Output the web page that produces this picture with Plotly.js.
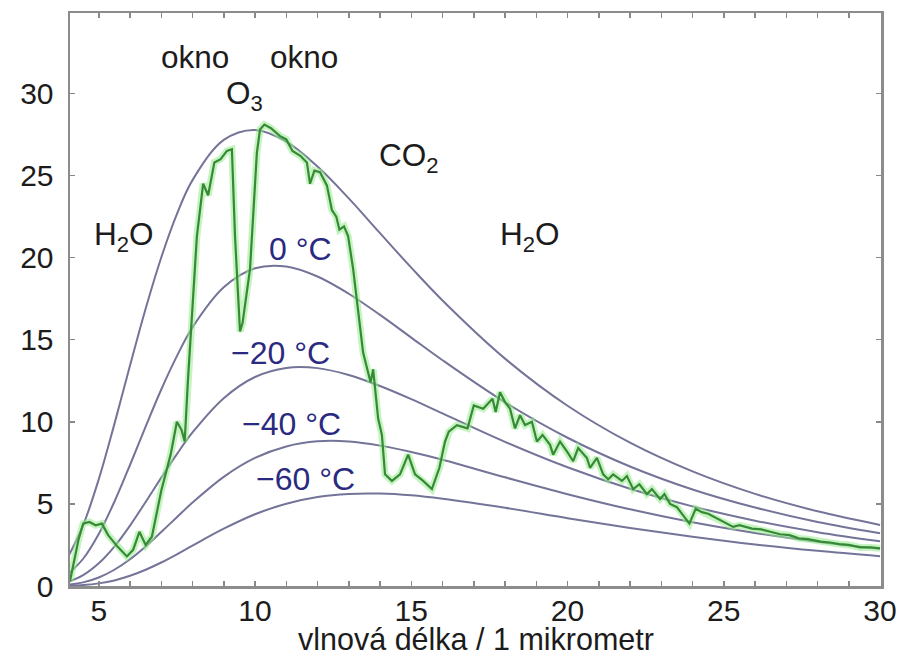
<!DOCTYPE html>
<html>
<head>
<meta charset="utf-8">
<script src="https://cdn.plot.ly/plotly-3.0.1.min.js"></script>
<style>html,body{margin:0;padding:0;background:#fff;}#chart{width:903px;height:660px;}</style>
</head>
<body>
<div id="chart"></div>
<script>
// Wavelength grid for the black-body reference curves (micrometres)
const planckX = [4, 4.5, 5, 5.5, 6, 6.5, 7, 7.5, 8, 9, 10, 11, 12, 13, 14, 15, 16, 18, 20, 22, 24, 26, 28, 30];
// Black-body curves
const curvePlus20 = [1.70, 3.70, 6.50, 9.86, 13.43, 16.89, 20.01, 22.65, 24.72, 27.17, 27.78, 27.07, 25.55, 23.61, 21.49, 19.39, 17.39, 13.85, 10.98, 8.73, 6.98, 5.61, 4.55, 3.72];
const curve0 = [0.69, 1.66, 3.17, 5.13, 7.37, 9.71, 11.97, 14.00, 15.75, 18.19, 19.35, 19.46, 18.85, 17.80, 16.51, 15.13, 13.75, 11.19, 9.03, 7.28, 5.88, 4.78, 3.90, 3.21];
const curveMinus20 = [0.24, 0.66, 1.38, 2.40, 3.68, 5.12, 6.60, 8.03, 9.35, 11.44, 12.73, 13.28, 13.27, 12.85, 12.18, 11.38, 10.51, 8.78, 7.23, 5.92, 4.85, 3.98, 3.28, 2.72];
const curveMinus40 = [0.07, 0.22, 0.52, 0.99, 1.63, 2.41, 3.29, 4.19, 5.08, 6.65, 7.80, 8.50, 8.81, 8.80, 8.55, 8.16, 7.69, 6.62, 5.59, 4.67, 3.88, 3.23, 2.69, 2.25];
const curveMinus60 = [0.02, 0.06, 0.16, 0.34, 0.62, 0.99, 1.43, 1.93, 2.46, 3.49, 4.37, 5.01, 5.42, 5.61, 5.63, 5.52, 5.31, 4.76, 4.13, 3.53, 3.00, 2.53, 2.14, 1.81];

// Measured spectrum (green)
const specX = [4.08, 4.2, 4.35, 4.5, 4.7, 4.9, 5.1, 5.3, 5.6, 5.9,
  6.1, 6.3, 6.5, 6.7, 7.0, 7.3, 7.5, 7.65, 7.75, 7.85,
  7.98, 8.14, 8.34, 8.5, 8.7, 8.9, 9.1, 9.26, 9.36, 9.45,
  9.52, 9.6, 9.84, 10.06, 10.16, 10.3, 10.5, 10.8, 11.0, 11.2,
  11.45, 11.66, 11.76, 11.9, 12.08, 12.3, 12.46, 12.6, 12.7, 12.85,
  12.98, 13.14, 13.26, 13.46, 13.7, 13.78, 13.94, 14.06, 14.16, 14.38,
  14.64, 14.9, 15.12, 15.38, 15.66, 15.9, 16.08, 16.2, 16.46, 16.8,
  17.0, 17.3, 17.6, 17.7, 17.84, 18.0, 18.16, 18.32, 18.48, 18.64,
  18.86, 19.02, 19.2, 19.44, 19.54, 19.76, 19.98, 20.18, 20.34, 20.62,
  20.72, 20.94, 21.14, 21.3, 21.46, 21.74, 21.9, 22.1, 22.3, 22.54,
  22.7, 22.96, 23.1, 23.28, 23.5, 23.8, 23.9, 24.1, 24.3, 24.5,
  24.8, 25.1, 25.3, 25.5, 25.7, 25.9, 26.2, 26.5, 26.8, 27.1,
  27.4, 27.7, 28.1, 28.4, 28.7, 29.0, 29.36, 29.7, 30.0];
const specY = [0.3, 1.5, 2.8, 3.8, 3.9, 3.7, 3.8, 3.1, 2.4, 1.8,
  2.2, 3.3, 2.5, 3.0, 5.8, 8.0, 10.0, 9.5, 8.8, 12.4,
  16.5, 21.3, 24.5, 23.8, 25.8, 26.0, 26.5, 26.6, 21.3, 17.5,
  15.5, 16.0, 19.3, 26.4, 27.8, 28.1, 27.9, 27.4, 27.2, 26.5,
  26.2, 25.8, 24.5, 25.3, 25.2, 24.4, 22.9, 22.5, 21.7, 21.9,
  21.3, 19.3, 17.3, 14.2, 12.4, 13.2, 10.2, 9.2, 6.8, 6.4,
  6.8, 8.0, 6.8, 6.4, 5.9, 7.2, 8.8, 9.4, 9.8, 9.6,
  11.0, 10.8, 11.4, 10.6, 11.8, 11.2, 10.8, 9.6, 10.4, 9.8,
  10.0, 8.8, 9.2, 8.6, 8.0, 8.8, 8.2, 7.6, 8.4, 7.8,
  7.2, 7.8, 6.8, 6.5, 6.8, 6.4, 6.7, 5.9, 6.2, 5.6,
  5.9, 5.3, 5.6, 5.0, 4.8, 4.1, 3.8, 4.7, 4.5, 4.4,
  4.1, 3.75, 3.6, 3.7, 3.6, 3.5, 3.45, 3.3, 3.15, 3.1,
  2.9, 2.85, 2.7, 2.65, 2.55, 2.5, 2.35, 2.35, 2.3];

// Ticks
const xTickVals = [5,6,7,8,9,10,11,12,13,14,15,16,17,18,19,20,21,22,23,24,25,26,27,28,29,30];
const xTickText = ['5','','','','','10','','','','','15','','','','','20','','','','','25','','','','','30'];
const yTickVals = [0, 5, 10, 15, 20, 25, 30];
const yTickText = ['0', '5', '10', '15', '20', '25', '30'];

// Texts
const xTitle = 'vlnová délka / 1 mikrometr';
const gasLabels = ['okno', 'okno', 'O<sub>3</sub>', 'CO<sub>2</sub>', 'H<sub>2</sub>O', 'H<sub>2</sub>O'];
const tempLabels = ['0 °C', '−20 °C', '−40 °C', '−60 °C'];

const FONT = 'Liberation Sans, Arial, Helvetica, sans-serif';
const curveColor = '#747499';

function bb(y) {
  return {x: planckX, y: y, type: 'scatter', mode: 'lines',
          line: {color: curveColor, width: 2, shape: 'spline', smoothing: 1.0},
          hoverinfo: 'skip', showlegend: false};
}

const traces = [
  bb(curvePlus20), bb(curve0), bb(curveMinus20), bb(curveMinus40), bb(curveMinus60),
  {x: specX, y: specY, type: 'scatter', mode: 'lines',
   line: {color: 'rgba(150,235,140,0.55)', width: 7}, showlegend: false, hoverinfo: 'skip'},
  {x: specX, y: specY, type: 'scatter', mode: 'lines',
   line: {color: '#368a36', width: 2.2}, showlegend: false, hoverinfo: 'skip'}
];

const gasPos = [[8.08, 32.2], [11.57, 32.2], [9.65, 29.9], [14.93, 26.1], [5.81, 21.3], [18.8, 21.3]];
const tempPos = [[11.44, 20.5], [10.8, 14.2], [11.18, 9.85], [11.63, 6.5]];

const annotations = [];
gasLabels.forEach((t, i) => annotations.push({
  x: gasPos[i][0], y: gasPos[i][1], xref: 'x', yref: 'y', text: t, showarrow: false,
  xanchor: 'center', yanchor: 'middle', font: {family: FONT, size: 31.5, color: '#1c1c1c'}
}));
tempLabels.forEach((t, i) => annotations.push({
  x: tempPos[i][0], y: tempPos[i][1], xref: 'x', yref: 'y', text: t, showarrow: false,
  xanchor: 'center', yanchor: 'middle', font: {family: FONT, size: 32, color: '#2a2a80'}
}));
// x-axis title placed just under the tick labels, as in the reference
annotations.push({
  x: 0.5, y: -0.093, xref: 'paper', yref: 'paper', text: xTitle, showarrow: false,
  xanchor: 'center', yanchor: 'middle', font: {family: FONT, size: 30.5, color: '#1c1c1c'}
});

const axisCommon = {
  ticks: 'inside', ticklen: 5, tickwidth: 1.5, tickcolor: '#888',
  showline: true, linecolor: '#8c8c8c', linewidth: 2.5, mirror: 'ticks',
  showgrid: false, zeroline: false, tickmode: 'array',
  tickfont: {family: FONT, size: 30, color: '#1c1c1c'}
};

const layout = {
  width: 903, height: 660,
  margin: {l: 70, r: 22, t: 13, b: 74},
  paper_bgcolor: '#fff', plot_bgcolor: '#fff',
  font: {family: FONT},
  xaxis: Object.assign({}, axisCommon, {
    range: [4.08, 30.03], tickvals: xTickVals, ticktext: xTickText,
    ticklabelstandoff: -4, automargin: false
  }),
  yaxis: Object.assign({}, axisCommon, {
    range: [0, 34.9], tickvals: yTickVals, ticktext: yTickText,
    ticklabelstandoff: 8, automargin: false
  }),
  annotations: annotations,
  showlegend: false
};

Plotly.newPlot('chart', traces, layout, {staticPlot: true, displayModeBar: false});
</script>
</body>
</html>
